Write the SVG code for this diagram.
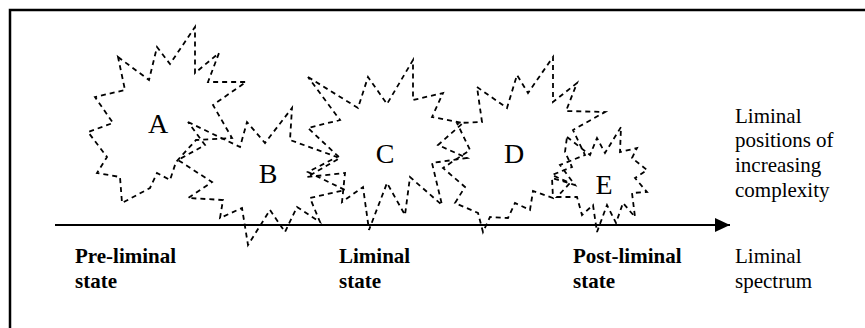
<svg xmlns="http://www.w3.org/2000/svg" width="865" height="328" viewBox="0 0 865 328">
<defs>
<style>
.star{fill:none;stroke:#000;stroke-width:1.8;stroke-dasharray:5 4;stroke-linejoin:miter}
.lbl{font-family:"Liberation Serif","Times New Roman",serif;font-size:28px;fill:#000;text-anchor:middle}
.b{font-family:"Liberation Serif","Times New Roman",serif;font-size:21px;font-weight:bold;fill:#000}
.r{font-family:"Liberation Serif","Times New Roman",serif;font-size:21px;fill:#000}
</style>
<marker id="arr" markerWidth="16" markerHeight="16" refX="15" refY="7" orient="auto" markerUnits="userSpaceOnUse">
<polygon points="0,0 15,7 0,14" fill="#000"/>
</marker>
</defs>
<rect width="865" height="328" fill="#fff"/>
<path d="M10,328 V10 H865" fill="none" stroke="#000" stroke-width="2.5"/>
<g id="connectors">
<line x1="55" y1="225" x2="730" y2="225" stroke="#000" stroke-width="2" marker-end="url(#arr)"/>
</g>
<g id="nodeA">
<polygon class="star" points="118,57 149,80 157,47 170,64 195,27 195,73 219,53 208,82 246,82 213,105 232,138 196,140 176,162 170,180 157,173 150,188 122,203 120,177 97,173 107,157 88,132 113,123 95,97 125,90"/>
<text class="lbl" x="158" y="133">A</text>
</g>
<g id="nodeB">
<polygon class="star" points="188,122 240,147 247,122 265,143 292,108 290,140 337,157 308,172 345,190 310,198 320,222 297,207 285,232 270,210 248,245 242,208 220,218 223,200 188,198 212,182 178,160 205,145"/>
<text class="lbl" x="268" y="183">B</text>
</g>
<g id="nodeC">
<polygon class="star" points="308,77 358,108 368,77 387,104 413,60 413,100 443,93 432,117 463,123 438,145 467,158 432,163 442,205 410,177 405,215 387,183 369,230 363,187 342,202 345,173 307,177 340,158 308,128 340,120"/>
<text class="lbl" x="385" y="163">C</text>
</g>
<g id="nodeD">
<polygon class="star" points="477,87 507,108 517,75 528,93 553,57 553,102 577,83 566,111 605,112 573,130 585,155 560,165 575,185 552,178 553,198 533,191 530,210 515,203 508,218 490,217 483,232 478,213 455,203 465,187 443,168 470,150 457,123 482,122"/>
<text class="lbl" x="514" y="163">D</text>
</g>
<g id="nodeE">
<polygon class="star" points="567,137 590,155 597,138 605,153 621,127 620,152 637,148 632,158 647,170 635,178 647,192 632,193 635,217 623,203 616,223 607,205 597,232 593,205 582,215 577,197 557,197 570,183 552,175 572,167 565,152"/>
<text class="lbl" x="604" y="194">E</text>
</g>
<g id="labels">
<text class="b" x="75" y="263">Pre-liminal</text>
<text class="b" x="75" y="288">state</text>
<text class="b" x="339" y="263">Liminal</text>
<text class="b" x="339" y="288">state</text>
<text class="b" x="573" y="263">Post-liminal</text>
<text class="b" x="573" y="288">state</text>
<text class="r" x="735" y="123">Liminal</text>
<text class="r" x="735" y="147">positions of</text>
<text class="r" x="735" y="172">increasing</text>
<text class="r" x="735" y="197">complexity</text>
<text class="r" x="735" y="263">Liminal</text>
<text class="r" x="735" y="288">spectrum</text>
</g>
</svg>
